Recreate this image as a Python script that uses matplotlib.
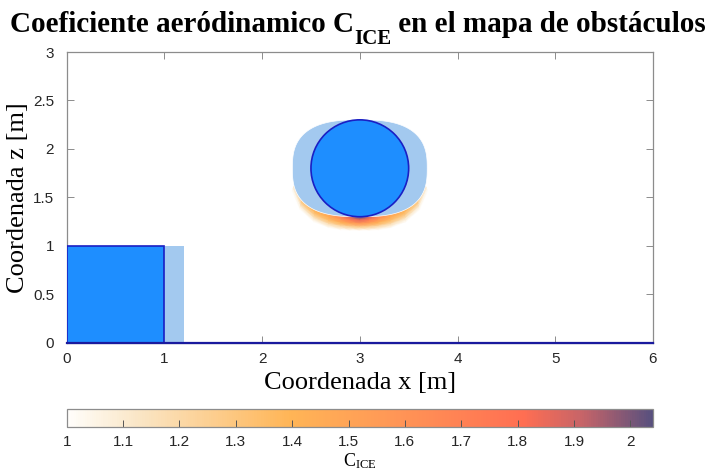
import matplotlib
matplotlib.use("Agg")
import matplotlib.pyplot as plt
import numpy as np
from matplotlib.colors import LinearSegmentedColormap
from matplotlib.patches import Circle, Polygon, Rectangle

# obstacle geometry [m]
box_x = [0.0, 1.0]
box_z = [0.0, 1.0]
box_ice_x = [1.0, 1.2]
cyl_center = (3.0, 1.8)
cyl_radius = 0.5
ice_semi_axes = (0.69, 0.5)       # ice layer round the cylinder
wake_semi_axes = (0.71, 0.64)     # outer edge of the coloured C_ICE zone
shape_exponent = 2.7
ground_x = [0.0, 6.0]
ground_z = [0.0, 0.0]

# C_ICE below the cylinder: rows = angle from the bottom [deg], cols = fraction ice edge -> outer edge
field_angles = [-75, -55, -35, -20, -10, -4, 0, 4, 10, 20, 35, 55, 75]
field_frac = [0.0, 0.25, 0.5, 0.75, 1.0]
c_ice = np.array([
    [1.12, 1.08, 1.05, 1.02, 1.00],
    [1.32, 1.25, 1.16, 1.07, 1.00],
    [1.42, 1.35, 1.24, 1.11, 1.00],
    [1.50, 1.44, 1.32, 1.16, 1.00],
    [1.68, 1.58, 1.42, 1.20, 1.00],
    [1.88, 1.72, 1.50, 1.24, 1.00],
    [2.04, 1.85, 1.58, 1.28, 1.00],
    [1.88, 1.72, 1.50, 1.24, 1.00],
    [1.68, 1.58, 1.42, 1.20, 1.00],
    [1.50, 1.44, 1.32, 1.16, 1.00],
    [1.42, 1.35, 1.24, 1.11, 1.00],
    [1.32, 1.25, 1.16, 1.07, 1.00],
    [1.12, 1.08, 1.05, 1.02, 1.00],
])

cbar_ticks = [1.0, 1.1, 1.2, 1.3, 1.4, 1.5, 1.6, 1.7, 1.8, 1.9, 2.0]
cbar_labels = ["1", "1.1", "1.2", "1.3", "1.4", "1.5", "1.6", "1.7", "1.8", "1.9", "2"]
c_min, c_max = 1.0, 2.04

cmap = LinearSegmentedColormap.from_list("cice", [
    (0.0, "#fffefb"),
    (0.12, "#fae6c6"),
    (0.38, "#ffb556"),
    (0.55, "#ff9856"),
    (0.78, "#ff6e52"),
    (0.88, "#c76468"),
    (1.0, "#58507e"),
])


def superellipse(t, semi, n):
    # t measured from the bottom, counter-clockwise
    s, c = np.sin(t), np.cos(t)
    x = semi[0] * np.sign(s) * np.abs(s) ** (2 / n)
    z = -semi[1] * np.sign(c) * np.abs(c) ** (2 / n)
    return x, z


plt.rcParams["font.family"] = ["Liberation Sans", "DejaVu Sans"]
plt.rcParams["mathtext.fontset"] = "custom"
plt.rcParams["mathtext.rm"] = "Liberation Serif"
plt.rcParams["mathtext.bf"] = "Liberation Serif:bold"
plt.rcParams["mathtext.it"] = "Liberation Serif:italic"

fig = plt.figure(figsize=(7.08, 4.75), dpi=100)
ax = fig.add_axes([0.0942, 0.2785, 0.828, 0.612])
cax = fig.add_axes([0.0942, 0.1021, 0.828, 0.0379])

tt = np.deg2rad(np.array(field_angles))[:, None]
ff = np.array(field_frac)[None, :]
xi, zi = superellipse(tt, ice_semi_axes, shape_exponent)
xo, zo = superellipse(tt, wake_semi_axes, shape_exponent)
xx = cyl_center[0] + (1 - ff) * xi + ff * xo
zz = cyl_center[1] + (1 - ff) * zi + ff * zo
mesh = ax.pcolormesh(xx, zz, c_ice, cmap=cmap, vmin=c_min, vmax=c_max,
                     shading="gouraud", zorder=1)

light = "#a3c9ef"
fill = "#1e8eff"
edge = "#1a1fc4"
tloop = np.linspace(0, 2 * np.pi, 361)
hx, hz = superellipse(tloop, ice_semi_axes, shape_exponent)
ax.add_patch(Polygon(np.column_stack([cyl_center[0] + hx, cyl_center[1] + hz]),
                     closed=True, facecolor=light, edgecolor="white", lw=0.5, zorder=2))
ax.add_patch(Circle(cyl_center, cyl_radius, facecolor=fill, edgecolor=edge, lw=1.2, zorder=3))
ax.add_patch(Rectangle((box_ice_x[0], box_z[0]), box_ice_x[1] - box_ice_x[0], box_z[1] - box_z[0],
                       facecolor=light, edgecolor="none", zorder=2))
ax.add_patch(Rectangle((box_x[0], box_z[0]), box_x[1] - box_x[0], box_z[1] - box_z[0],
                       facecolor=fill, edgecolor=edge, lw=1.2, zorder=3))
ax.plot(ground_x, ground_z, color="#1a1a9e", lw=1.6, zorder=4, clip_on=False)

ax.set_xlim(0, 6)
ax.set_ylim(0, 3)
ax.set_xticks(range(7))
ax.set_yticks([0, 0.5, 1, 1.5, 2, 2.5, 3])
ax.set_yticklabels(["0", "0.5", "1", "1.5", "2", "2.5", "3"])
for s in ax.spines.values():
    s.set_color("#8c8c8c")
    s.set_linewidth(0.9)
ax.tick_params(direction="in", length=5, width=0.7, color="#8c8c8c",
               labelsize=11, labelcolor="#262626", top=True, right=True,
               labeltop=False, labelright=False)
ax.tick_params(axis="x", pad=7)
ax.tick_params(axis="y", pad=9)

ax.set_xlabel("Coordenada x [m]", family="Liberation Serif", fontsize=19, labelpad=4)
ax.set_ylabel("Coordenada z [m]", family="Liberation Serif", fontsize=19, labelpad=3)

# title in pieces so the subscript can sit lower and larger than mathtext does it
renderer = fig.canvas.get_renderer()
title_kw = dict(family="Liberation Serif", fontweight="bold", va="baseline")
pieces = [("Coeficiente aeródinamico C", 21, 0), ("ICE", 15, -12), (" en el mapa de obstáculos", 21, 0)]
texts = []
for s, size, dy in pieces:
    t = fig.text(0, 0, s, fontsize=size, **title_kw)
    texts.append((t, t.get_window_extent(renderer).width, dy))
total = sum(w for _, w, _ in texts)
x0 = 0.506 * fig.bbox.width - total / 2
base = fig.bbox.height - 32
for t, w, dy in texts:
    t.set_transform(None)
    t.set_position((x0, base + dy))
    x0 += w

cb = fig.colorbar(mesh, cax=cax, orientation="horizontal", ticks=cbar_ticks)
cb.ax.set_xticklabels(cbar_labels)
cb.outline.set_edgecolor("#8c8c8c")
cb.outline.set_linewidth(0.9)
cax.tick_params(direction="in", length=5, width=0.7, color="#555555",
                labelsize=11, labelcolor="#262626", pad=6)
cb.set_label(r"C$_{\mathrm{ICE}}$", family="Liberation Serif", fontsize=13, labelpad=2)

fig.savefig("out.png", dpi=100, facecolor="white")
